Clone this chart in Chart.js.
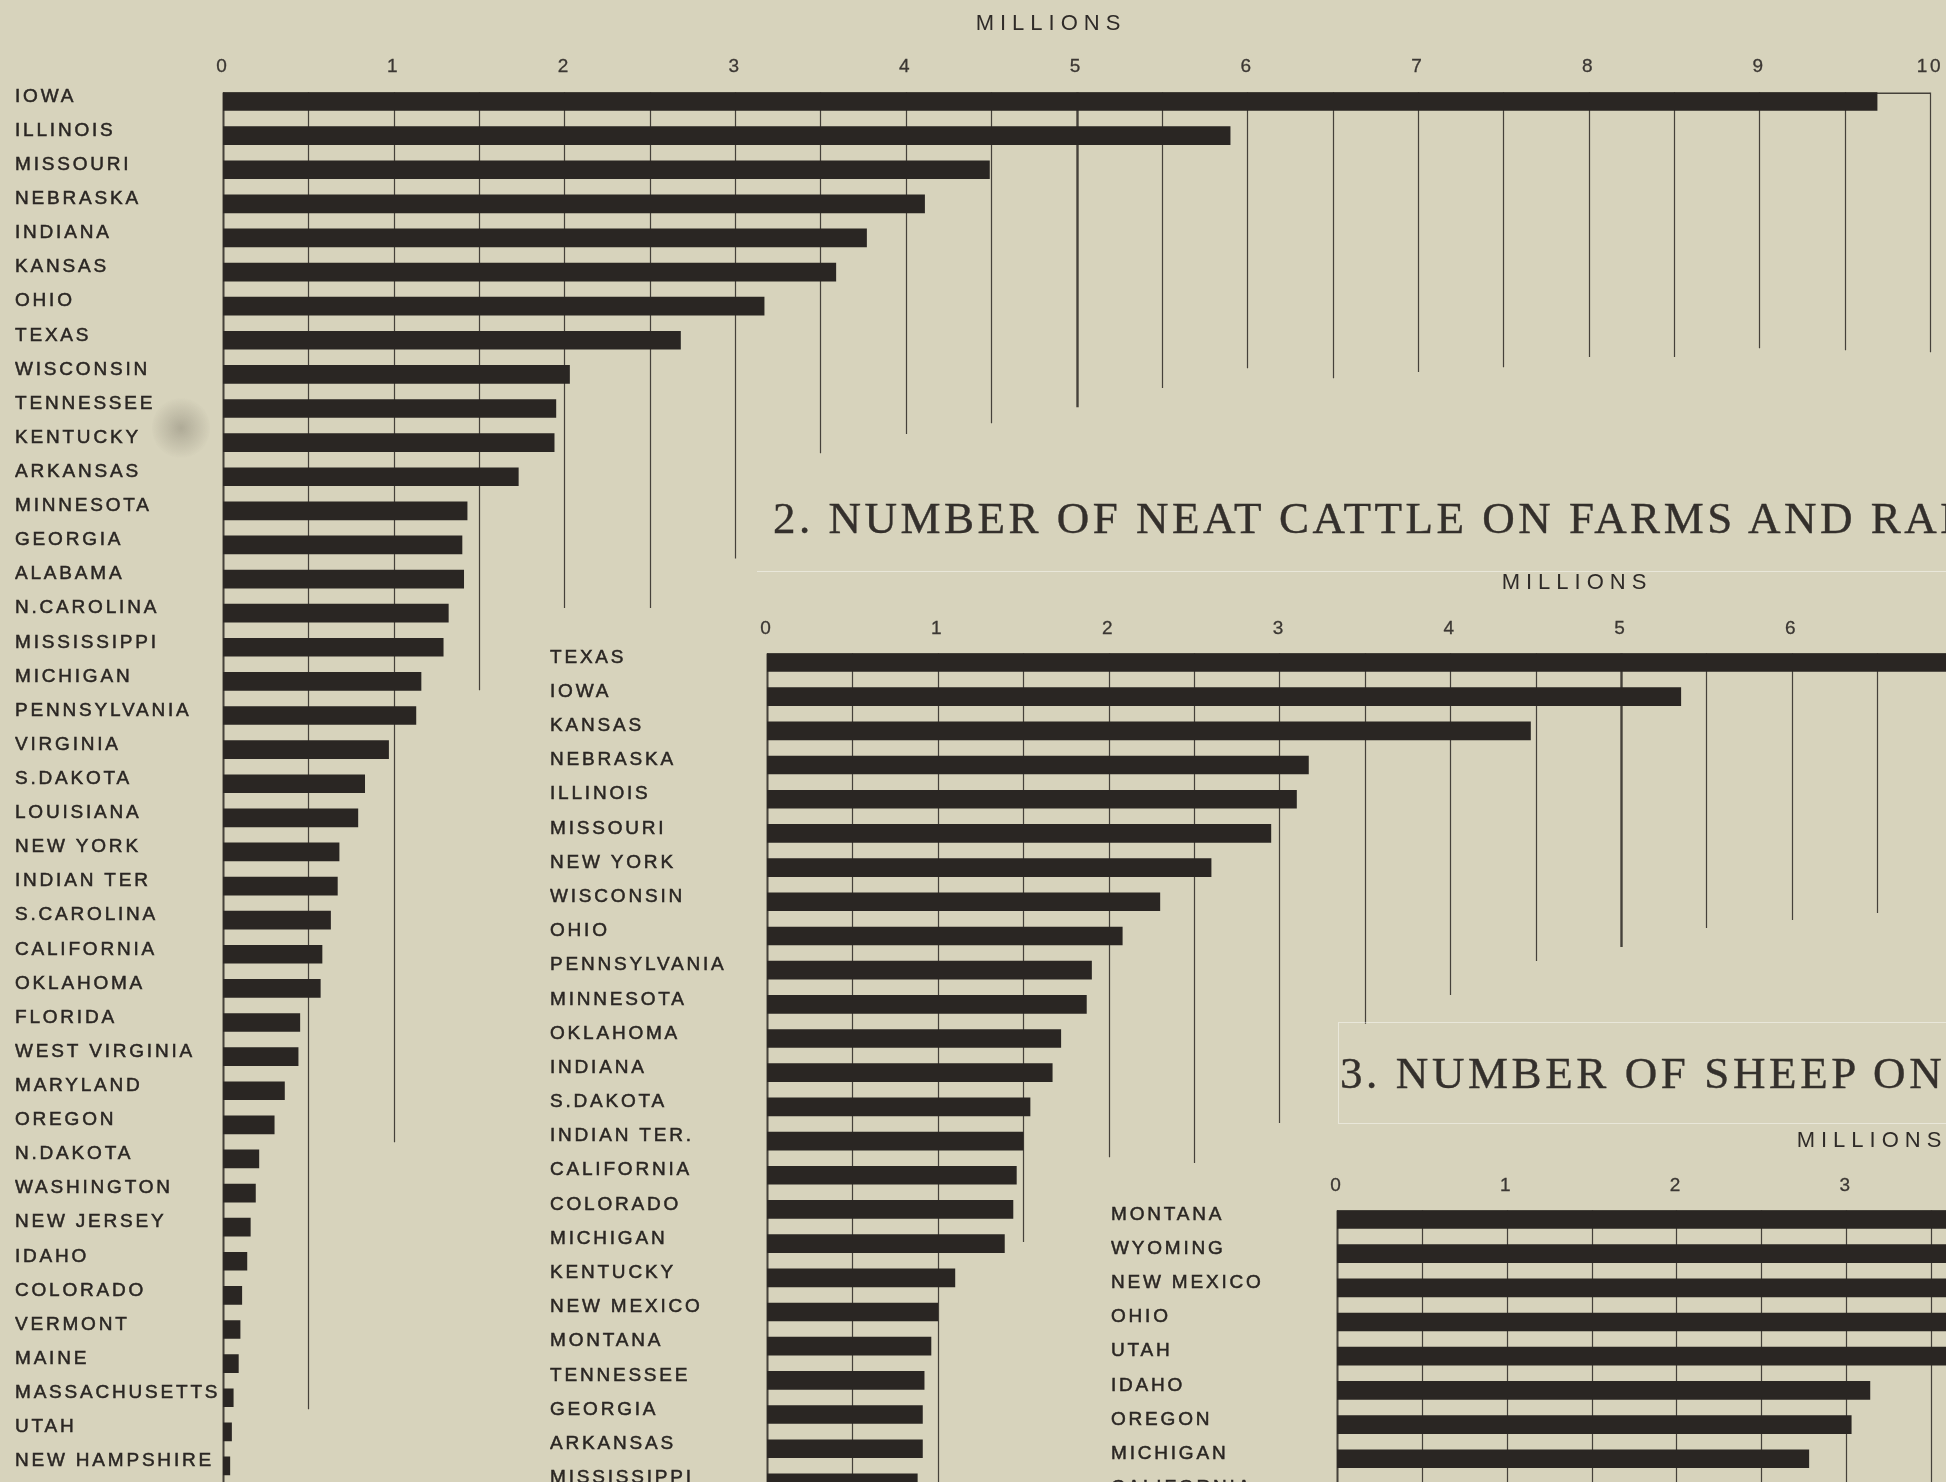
<!DOCTYPE html>
<html>
<head>
<meta charset="utf-8">
<title>Hogs, cattle and sheep by state</title>
<script src="https://cdn.jsdelivr.net/npm/chart.js@4.4.1/dist/chart.umd.min.js"></script>
<style>
  html, body { margin: 0; padding: 0; }
  body {
    width: 1946px; height: 1482px; overflow: hidden; position: relative;
    background: #d7d3bc;
  }
  canvas { position: absolute; }
  .units {
    position: absolute; white-space: nowrap; line-height: 22px;
    font-family: "Liberation Sans", Arial, sans-serif; font-size: 22px;
    letter-spacing: 6px; color: #2f2b28; transform: translateX(-50%);
  }
  .title {
    position: absolute; white-space: nowrap; line-height: 45px;
    font-family: "Liberation Serif", "Times New Roman", serif; font-size: 45px;
    color: #34302c; -webkit-text-stroke: 0.4px #34302c;
  }
  .seam { position: absolute; border: 0 solid rgba(255, 255, 255, 0.45); }
  .smudge {
    position: absolute; border-radius: 50%;
    background: radial-gradient(circle, rgba(110, 105, 92, 0.38), rgba(110, 105, 92, 0) 70%);
  }
</style>
</head>
<body>
<canvas id="hogs" width="1945" height="1483" style="left:15px; top:0px;"></canvas>
<canvas id="cattle" width="1955" height="900" style="left:550px; top:600px;"></canvas>
<canvas id="sheep" width="1444" height="350" style="left:1111px; top:1160px;"></canvas>

<div class="units" style="left:1051px; top:12px;">MILLIONS</div>
<div class="title" style="left:773px; top:496px; letter-spacing:3.5px;">2. NUMBER OF NEAT CATTLE ON FARMS AND RANGES</div>
<div class="units" style="left:1577px; top:571px;">MILLIONS</div>
<div class="title" style="left:1340px; top:1051px; letter-spacing:3.6px;">3. NUMBER OF SHEEP ON FARMS AND RANGES</div>
<div class="units" style="left:1872px; top:1129px;">MILLIONS</div>

<div class="seam" style="left:757px; top:571px; width:1189px; border-top-width:1px;"></div>
<div class="seam" style="left:1338px; top:1022px; width:608px; height:100px; border-width:1px 0 1px 1px;"></div>
<div class="smudge" style="left:152px; top:396px; width:58px; height:64px;"></div>

<script>
// hogs, millions
const hogStates = [
  'IOWA', 'ILLINOIS', 'MISSOURI', 'NEBRASKA', 'INDIANA', 'KANSAS', 'OHIO', 'TEXAS',
  'WISCONSIN', 'TENNESSEE', 'KENTUCKY', 'ARKANSAS', 'MINNESOTA', 'GEORGIA', 'ALABAMA',
  'N.CAROLINA', 'MISSISSIPPI', 'MICHIGAN', 'PENNSYLVANIA', 'VIRGINIA', 'S.DAKOTA',
  'LOUISIANA', 'NEW YORK', 'INDIAN TER', 'S.CAROLINA', 'CALIFORNIA', 'OKLAHOMA',
  'FLORIDA', 'WEST VIRGINIA', 'MARYLAND', 'OREGON', 'N.DAKOTA', 'WASHINGTON',
  'NEW JERSEY', 'IDAHO', 'COLORADO', 'VERMONT', 'MAINE', 'MASSACHUSETTS', 'UTAH',
  'NEW HAMPSHIRE'
];
const hogMillions = [
  9.69, 5.90, 4.49, 4.11, 3.77, 3.59, 3.17, 2.68,
  2.03, 1.95, 1.94, 1.73, 1.43, 1.40, 1.41,
  1.32, 1.29, 1.16, 1.13, 0.97, 0.83,
  0.79, 0.68, 0.67, 0.63, 0.58, 0.57,
  0.45, 0.44, 0.36, 0.30, 0.21, 0.19,
  0.16, 0.14, 0.11, 0.10, 0.09, 0.06, 0.05,
  0.04
];

// neat cattle, millions
const cattleStates = [
  'TEXAS', 'IOWA', 'KANSAS', 'NEBRASKA', 'ILLINOIS', 'MISSOURI', 'NEW YORK', 'WISCONSIN',
  'OHIO', 'PENNSYLVANIA', 'MINNESOTA', 'OKLAHOMA', 'INDIANA', 'S.DAKOTA', 'INDIAN TER.',
  'CALIFORNIA', 'COLORADO', 'MICHIGAN', 'KENTUCKY', 'NEW MEXICO', 'MONTANA', 'TENNESSEE',
  'GEORGIA', 'ARKANSAS', 'MISSISSIPPI'
];
const cattleMillions = [
  9.43, 5.35, 4.47, 3.17, 3.10, 2.95, 2.60, 2.30,
  2.08, 1.90, 1.87, 1.72, 1.67, 1.54, 1.50,
  1.46, 1.44, 1.39, 1.10, 1.00, 0.96, 0.92,
  0.91, 0.91, 0.88
];

// sheep, millions
const sheepStates = [
  'MONTANA', 'WYOMING', 'NEW MEXICO', 'OHIO', 'UTAH', 'IDAHO', 'OREGON', 'MICHIGAN', 'CALIFORNIA'
];
const sheepMillions = [6.17, 5.10, 4.90, 4.02, 3.83, 3.14, 3.03, 2.78, 2.0];

// axis steps (millions)
const hogAxisMax = 10;
const cattleAxisMax = 10;
const sheepAxisMax = 7;

// row (0 = first bar) at which each half-million rule stops: 0, 0.5, 1, ...
const hogRuleStops = [
  40.5, 38.34, 30.51, 17.26, 14.85, 14.85, 13.4, 10.31, 9.75, 9.43, 8.96,
  8.40, 7.82, 8.11, 7.93, 7.79, 7.49, 7.49, 7.23, 7.29, 7.35
];
const cattleRuleStops = [
  24.5, 24.5, 24.5, 16.95, 14.47, 14.64, 13.47, 10.57, 9.73, 8.73, 8.32,
  7.77, 7.53, 7.33, 7.2, 7.2, 7.2, 7.2, 7.2, 7.2, 7.2
];
const sheepRuleStops = [8.5, 8.5, 8.5, 8.5, 8.5, 8.5, 8.5, 8.5, 8.5, 8.5, 8.5, 8.5, 8.5, 8.5, 8.5];

const INK = '#2a2623';
const RULE_INK = 'rgba(44, 39, 35, 0.85)';
const SANS = '"Liberation Sans", Arial, sans-serif';
const BAR = 18;

// hand-ruled verticals: each one runs from the head of the first bar down to its own stop
const rules = {
  id: 'rules',
  beforeDraw(chart) {
    chart.ctx.letterSpacing = '2.8px';
  },
  beforeDatasetsDraw(chart, args, opts) {
    const { ctx, scales: { x, y } } = chart;
    ctx.letterSpacing = '0px';
    const top = y.getPixelForValue(0) - BAR / 2;
    ctx.save();
    ctx.strokeStyle = RULE_INK;
    opts.stops.forEach((stop, i) => {
      const v = i / 2;
      const px = Math.round(x.getPixelForValue(v)) + 0.5;
      const end = Math.min(y.getPixelForValue(stop), y.bottom);
      ctx.lineWidth = v === 0 ? 2 : (v === 5 ? 2.4 : 1.2);
      ctx.beginPath();
      ctx.moveTo(px, top);
      ctx.lineTo(px, end);
      ctx.stroke();
    });
    ctx.lineWidth = 1.5;
    ctx.beginPath();
    ctx.moveTo(x.getPixelForValue(0), top + 0.75);
    ctx.lineTo(x.getPixelForValue((opts.stops.length - 1) / 2), top + 0.75);
    ctx.stroke();
    ctx.restore();
  },
  afterDraw(chart) {
    chart.ctx.letterSpacing = '0px';
  }
};

function stateBars(id, states, values, cfg) {
  return new Chart(document.getElementById(id), {
    type: 'bar',
    data: {
      labels: states,
      datasets: [{ data: values, backgroundColor: INK, borderWidth: 0, barThickness: BAR }]
    },
    plugins: [rules],
    options: {
      indexAxis: 'y',
      responsive: false,
      animation: false,
      layout: { padding: { left: 0, right: 30, top: 0, bottom: 0 } },
      plugins: {
        legend: { display: false },
        tooltip: { enabled: false },
        rules: { stops: cfg.stops }
      },
      scales: {
        x: {
          type: 'linear', position: 'top', min: 0, max: cfg.max,
          grid: { display: false, drawTicks: false },
          border: { display: false },
          ticks: {
            stepSize: 1, autoSkip: false, maxRotation: 0, padding: cfg.tickPad,
            color: '#3b3733', font: { family: SANS, size: 19 },
            textStrokeColor: '#3b3733', textStrokeWidth: 0.3
          },
          afterFit: s => { s.height = cfg.head; }
        },
        y: {
          grid: { display: false, drawTicks: false },
          border: { display: false },
          ticks: {
            autoSkip: false, crossAlign: 'far', labelOffset: -5,
            color: INK, font: { family: SANS, size: 19 },
            textStrokeColor: INK, textStrokeWidth: 0.5
          },
          afterFit: s => {
            s.width = cfg.labelWidth;
            // rows fill the whole height; no extra room for the end labels
            s.paddingTop = 0;
            s.paddingBottom = 0;
          }
        }
      }
    }
  });
}

stateBars('hogs', hogStates, hogMillions,
  { max: hogAxisMax, stops: hogRuleStops, head: 84.45, tickPad: 6, labelWidth: 208 });
stateBars('cattle', cattleStates, cattleMillions,
  { max: cattleAxisMax, stops: cattleRuleStops, head: 45.4, tickPad: 5.5, labelWidth: 217 });
stateBars('sheep', sheepStates, sheepMillions,
  { max: sheepAxisMax, stops: sheepRuleStops, head: 42.4, tickPad: 5, labelWidth: 226 });
</script>
</body>
</html>
